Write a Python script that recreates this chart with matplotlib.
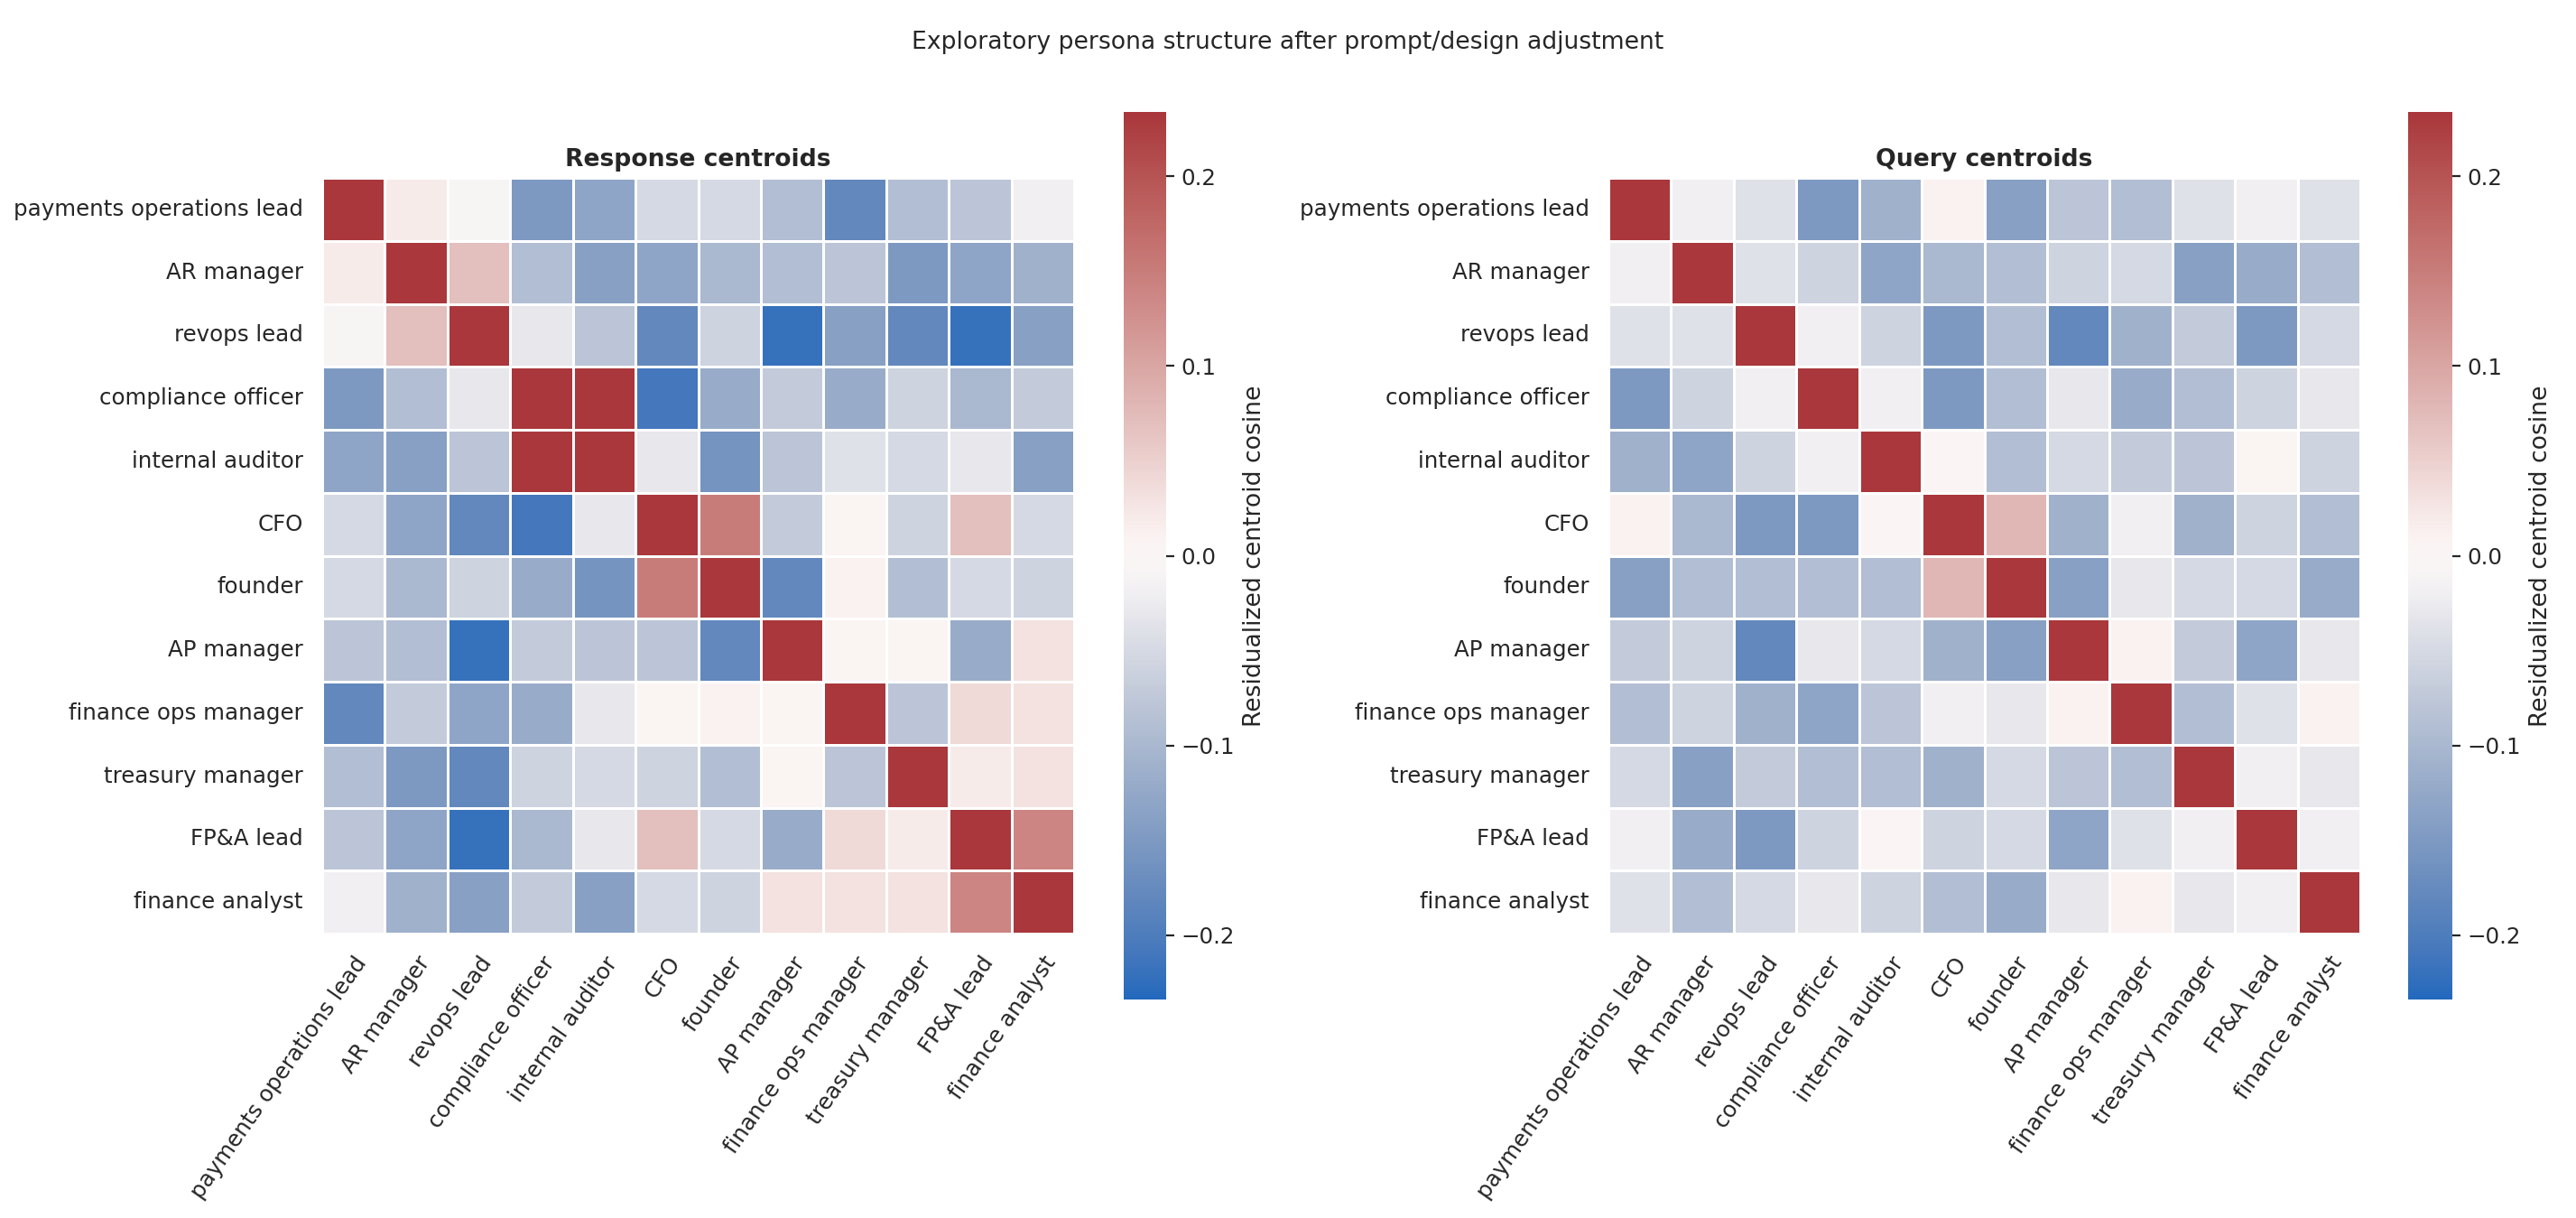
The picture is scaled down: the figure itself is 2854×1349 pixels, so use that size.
import numpy as np
import matplotlib
matplotlib.use("Agg")
import matplotlib.pyplot as plt
import seaborn as sns

sns.set_theme(style="white")

personas = ["payments operations lead", "AR manager", "revops lead", "compliance officer",
            "internal auditor", "CFO", "founder", "AP manager", "finance ops manager",
            "treasury manager", "FP&A lead", "finance analyst"]

response = [
    [1, 0.02, -0.01, -0.15, -0.13, -0.05, -0.05, -0.09, -0.18, -0.09, -0.08, -0.02],
    [0.02, 1, 0.07, -0.09, -0.14, -0.13, -0.10, -0.09, -0.08, -0.15, -0.13, -0.11],
    [-0.01, 0.07, 1, -0.03, -0.08, -0.18, -0.06, -0.22, -0.14, -0.18, -0.22, -0.14],
    [-0.15, -0.09, -0.03, 1, 0.25, -0.21, -0.12, -0.07, -0.12, -0.06, -0.10, -0.07],
    [-0.13, -0.14, -0.08, 0.25, 1, -0.03, -0.16, -0.08, -0.04, -0.05, -0.03, -0.14],
    [-0.05, -0.13, -0.18, -0.21, -0.03, 1, 0.15, -0.07, 0.005, -0.06, 0.07, -0.05],
    [-0.05, -0.10, -0.06, -0.12, -0.16, 0.15, 1, -0.18, 0.01, -0.09, -0.05, -0.06],
    [-0.08, -0.09, -0.22, -0.07, -0.08, -0.08, -0.18, 1, 0.005, 0.005, -0.12, 0.03],
    [-0.18, -0.07, -0.13, -0.12, -0.03, 0.005, 0.01, 0.005, 1, -0.08, 0.04, 0.03],
    [-0.09, -0.15, -0.18, -0.06, -0.05, -0.06, -0.09, 0.005, -0.08, 1, 0.02, 0.03],
    [-0.08, -0.13, -0.22, -0.10, -0.03, 0.07, -0.05, -0.12, 0.04, 0.02, 1, 0.14],
    [-0.02, -0.11, -0.14, -0.07, -0.14, -0.05, -0.06, 0.03, 0.03, 0.03, 0.14, 1],
]

query = [
    [1, -0.02, -0.04, -0.15, -0.11, 0.01, -0.14, -0.08, -0.09, -0.04, -0.02, -0.04],
    [-0.02, 1, -0.04, -0.06, -0.13, -0.10, -0.09, -0.06, -0.05, -0.14, -0.12, -0.09],
    [-0.04, -0.04, 1, -0.02, -0.06, -0.15, -0.09, -0.18, -0.11, -0.07, -0.15, -0.05],
    [-0.15, -0.06, -0.02, 1, -0.02, -0.15, -0.09, -0.03, -0.12, -0.09, -0.06, -0.03],
    [-0.11, -0.13, -0.06, -0.02, 1, 0.0, -0.09, -0.05, -0.07, -0.08, 0.005, -0.06],
    [0.01, -0.10, -0.15, -0.15, 0.0, 1, 0.08, -0.11, -0.02, -0.11, -0.06, -0.09],
    [-0.14, -0.09, -0.09, -0.09, -0.09, 0.08, 1, -0.14, -0.03, -0.05, -0.05, -0.12],
    [-0.07, -0.06, -0.18, -0.03, -0.05, -0.11, -0.14, 1, 0.01, -0.07, -0.13, -0.03],
    [-0.09, -0.06, -0.11, -0.13, -0.08, -0.02, -0.03, 0.01, 1, -0.09, -0.04, 0.01],
    [-0.05, -0.14, -0.07, -0.09, -0.09, -0.11, -0.05, -0.08, -0.09, 1, -0.02, -0.03],
    [-0.02, -0.12, -0.15, -0.06, 0.0, -0.06, -0.05, -0.13, -0.04, -0.02, 1, -0.02],
    [-0.04, -0.09, -0.05, -0.03, -0.06, -0.09, -0.12, -0.03, 0.01, -0.03, -0.02, 1],
]

W, H = 2854, 1349
fig = plt.figure(figsize=(W / 160, H / 160), dpi=160)

def box(x0, y0, x1, y1):
    return [x0 / W, 1 - y1 / H, (x1 - x0) / W, (y1 - y0) / H]

panels = [
    ("Response centroids", response, box(357, 197, 1190, 1034), box(1245, 124, 1292, 1107)),
    ("Query centroids", query, box(1782, 197, 2615, 1034), box(2668, 124, 2717, 1107)),
]
lim = 0.234
for title, mat, ax_pos, cb_pos in panels:
    ax = fig.add_axes(ax_pos)
    cax = fig.add_axes(cb_pos)
    sns.heatmap(np.array(mat), ax=ax, cbar_ax=cax, cmap="vlag", vmin=-lim, vmax=lim,
                linewidths=0.5, linecolor="white", square=False,
                xticklabels=personas, yticklabels=personas,
                cbar_kws={"label": "Residualized centroid cosine"})
    ax.set_title(title, fontweight="bold", fontsize=12)
    ax.set_xticklabels(personas, rotation=55, ha="right", rotation_mode="anchor", fontsize=11)
    ax.set_yticklabels(personas, rotation=0, fontsize=11)
    cax.tick_params(labelsize=11, length=4, width=1, left=False, right=True)
    cax.set_ylabel("Residualized centroid cosine", fontsize=12)

fig.suptitle("Exploratory persona structure after prompt/design adjustment", fontsize=12, y=0.975)
fig.savefig("out.png", dpi=160)
